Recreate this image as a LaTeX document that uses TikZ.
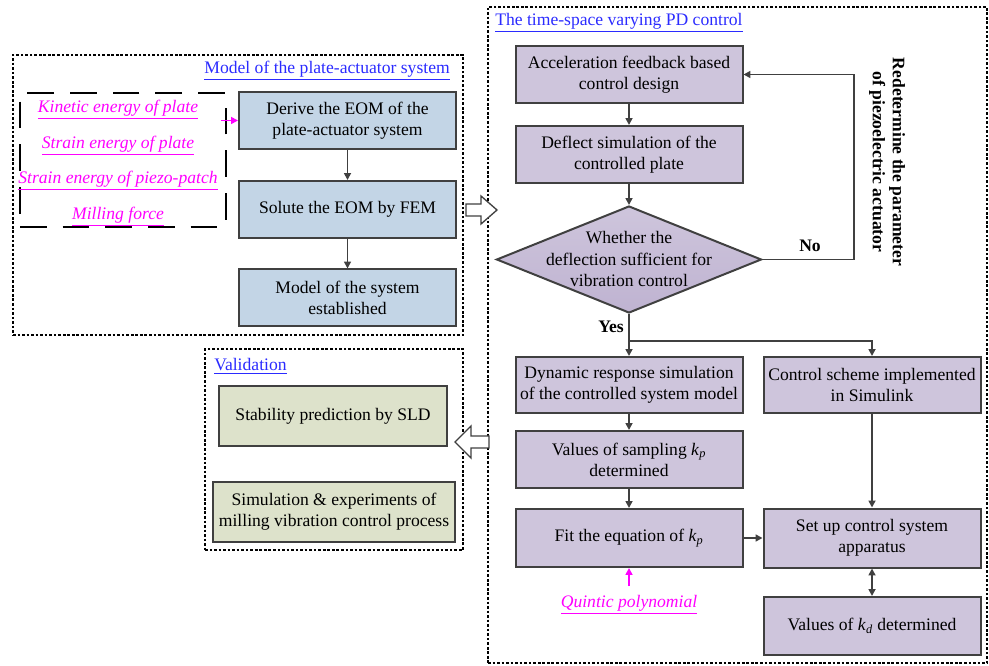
\documentclass[tikz,border=0pt]{standalone}
\usepackage{fontspec}
\setmainfont{Liberation Serif}
\usetikzlibrary{arrows.meta,shapes.geometric}
\definecolor{bfill}{HTML}{C3D5E6}
\definecolor{gfill}{HTML}{DDE2CB}
\definecolor{pfill}{HTML}{CEC5DC}
\definecolor{pdark}{HTML}{BFB3D1}
\definecolor{edge}{HTML}{404040}
\definecolor{ttl}{HTML}{2B2BFF}
\definecolor{mag}{HTML}{FF00FF}
\begin{document}
\begin{tikzpicture}[x=0.75pt,y=-0.75pt,
  txt/.style={font=\fontsize{13.2}{15.8}\selectfont, align=center, inner sep=0pt},
  sz/.style 2 args={minimum width=#1*0.75pt, minimum height=#2*0.75pt},
  box/.style={txt, draw=edge, line width=1.5pt},
  bbox/.style={box, fill=bfill},
  gbox/.style={box, fill=gfill},
  pbox/.style={box, fill=pfill},
  group/.style={draw=black, line width=1pt, dash pattern=on 2pt off 1.4pt, inner sep=0pt},
  title/.style={txt, text=ttl},
  conn/.style={draw=edge, line width=1.3pt, -{Triangle[length=5.2pt,width=5.2pt]}},
  mconn/.style={draw=mag, line width=1.3pt, -{Triangle[length=5.2pt,width=5.2pt]}},
  mtext/.style={txt, text=mag, font=\fontsize{13.2}{15.8}\selectfont\itshape},
  lbl/.style={txt, font=\fontsize{13.2}{15.8}\selectfont\bfseries},
  hollow/.style={draw=edge, line width=1pt, fill=white, line join=miter}
]
\useasboundingbox (0,0) rectangle (989,666);

% group frames
\node[group, sz={450}{280}] (gmodel) at (238,195) {};
\node[group, sz={258}{201}] (gval) at (334,449.5) {};
\node[group, sz={499}{656}] (gpd) at (737.5,335) {};

\node[title, anchor=east] (tmodel) at (450,71) {\underline{Model of the plate-actuator system}};
\node[title, anchor=west] (tval) at (214,366) {\underline{Validation}};
\node[title, anchor=west] (tpd) at (495,23) {\underline{The time-space varying PD control}};

% model part
\node[draw=black, line width=1.2pt, dash pattern=on 20pt off 12pt, sz={206}{134}, inner sep=0pt] (dbox) at (123,160) {};
\node[mtext] (ke) at (118,110) {\underline{Kinetic energy of plate}};
\node[mtext] (sep) at (118,146) {\underline{Strain energy of plate}};
\node[mtext] (spp) at (118,181) {\underline{Strain energy of piezo-patch}};
\node[mtext] (mf) at (118,217) {\underline{Milling force}};

\node[bbox, sz={217}{57}] (der) at (347.5,120.5) {Derive the EOM of the\\plate-actuator system};
\node[bbox, sz={217}{57}] (sol) at (347.5,209.5) {Solute the EOM by FEM};
\node[bbox, sz={217}{57}] (mod) at (347.5,298) {Model of the system\\established};

\coordinate (ms) at (221,120.5);
\draw[mconn] (ms) -- (der.west);
\draw[conn] (der) -- (sol);
\draw[conn] (sol) -- (mod);

% validation part
\node[gbox, sz={228}{60}] (stab) at (333,416) {Stability prediction by SLD};
\node[gbox, sz={242}{60}] (simu) at (334,512) {Simulation \& experiments of\\milling vibration control process};

% PD part
\node[pbox, sz={227}{57}] (acc) at (629,74.5) {Acceleration feedback based\\control design};
\node[pbox, sz={227}{57}] (defl) at (629,154.5) {Deflect simulation of the\\controlled plate};
\node[diamond, draw=edge, line width=1.5pt, top color=pfill, bottom color=pdark, sz={265}{107}, inner sep=0pt] (dia) at (629,259.5) {};
\node[txt] (diat) at (629,259) {Whether the\\deflection sufficient for\\vibration control};

\node[pbox, sz={227}{56}] (dyn) at (629,385) {Dynamic response simulation\\of the controlled system model};
\node[pbox, sz={217}{56}] (ctrl) at (872,385) {Control scheme implemented\\in Simulink};
\node[pbox, sz={227}{57}] (samp) at (629,459.5) {Values of sampling \textit{k}\textsubscript{\textit{p}}\\determined};
\node[pbox, sz={227}{58}] (fit) at (629,538) {Fit the equation of \textit{k}\textsubscript{\textit{p}}};
\node[pbox, sz={217}{59}] (setup) at (872,538) {Set up control system\\apparatus};
\node[pbox, sz={217}{58}] (kd) at (872,626) {Values of \textit{k}\textsubscript{\textit{d}} determined};

\node[mtext] (quin) at (629,605) {\underline{Quintic polynomial}};

\node[lbl] (no) at (810,246) {No};
\node[lbl] (yes) at (611,327) {Yes};
\node[lbl, rotate=-90, align=center, font=\fontsize{13.2}{15}\selectfont\bfseries] (redet) at (887,162) {Redetermine the parameter\\of piezoelectric actuator};

\draw[conn] (acc) -- (defl);
\draw[conn] (defl) -- (dia.north);
\coordinate (loop) at (854,74.5);
\draw[conn] (dia.east) -| (loop) -- (acc.east);
\coordinate (split) at (629,341);
\draw[conn] (dia.south) -- (dyn.north);
\draw[conn] (split) -| (ctrl.north);
\draw[conn] (dyn) -- (samp);
\draw[conn] (samp) -- (fit);
\draw[conn] (fit) -- (setup);
\draw[conn] (ctrl) -- (setup);
\draw[conn, {Triangle[length=5.2pt,width=5.2pt]}-{Triangle[length=5.2pt,width=5.2pt]}] (setup) -- (kd);
\coordinate (qs) at (629,586);
\draw[mconn] (qs) -- (fit.south);

% hollow block arrows
\draw[hollow] (466,204) -- (481,204) -- (481,196) -- (497,210) -- (481,224) -- (481,216) -- (466,216) -- cycle;
\draw[hollow] (489,436) -- (471,436) -- (471,426) -- (455,442) -- (471,458) -- (471,448) -- (489,448) -- cycle;
\end{tikzpicture}
\end{document}
